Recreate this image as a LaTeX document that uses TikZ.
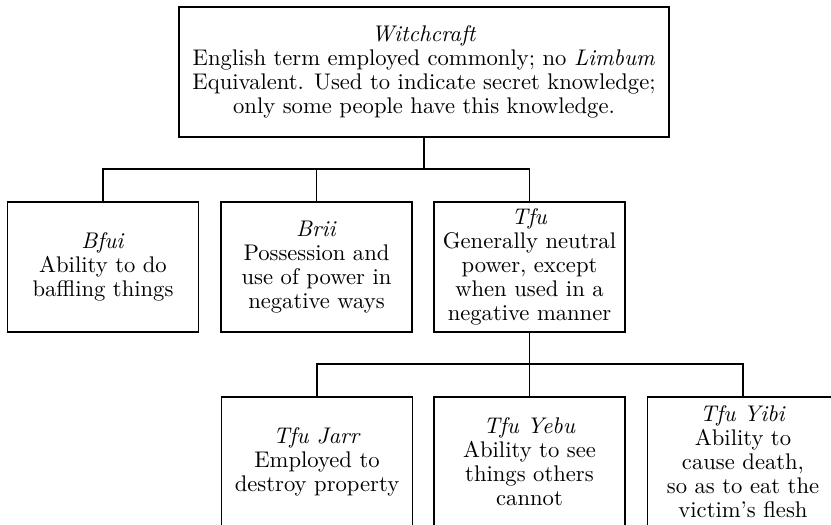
\documentclass[tikz,border=0pt]{standalone}
\usepackage{tikz}
\usetikzlibrary{positioning}

\tikzset{
  termbox/.style = {draw, line width = .7pt, align = center, inner sep = 0pt,
    minimum width = 84.4pt, minimum height = 57.5pt,
    font = \fontsize{10}{10.6}\selectfont},
  link/.style = {line width = .7pt}
}

\begin{document}
\begin{tikzpicture}[x = .442pt, y = -.442pt]
\useasboundingbox (0,0) rectangle (831,525);
% top level
\node[termbox, minimum width = 216.6pt] (witch) at (424,72) {\textit{Witchcraft}\\English term employed commonly; no \textit{Limbum}\\Equivalent. Used to indicate secret knowledge;\\only some people have this knowledge.};
% second level
\node[termbox] (bfui) at (103,267) {\textit{Bfui}\\Ability to do\\baffling things};
\node[termbox] (brii) at (316.5,267) {\textit{Brii}\\Possession and\\use of power in\\negative ways};
\node[termbox] (tfu) at (529.5,267) {\textit{Tfu}\\Generally neutral\\power, except\\when used in a\\negative manner};
% third level
\node[termbox] (jarr) at (317,462) {\textit{Tfu Jarr}\\Employed to\\destroy property};
\node[termbox] (yebu) at (529.5,462) {\textit{Tfu Yebu}\\Ability to see\\things others\\cannot};
\node[termbox] (yibi) at (743,462) {\textit{Tfu Yibi}\\Ability to\\cause death,\\so as to eat the\\victim's flesh};
% branches
\coordinate (split1) at (witch.south |- 0,169);
\coordinate (split2) at (tfu.south |- 0,364);
\draw[link] (witch.south) -- (split1);
\draw[link] (bfui.north) |- (split1) -| (tfu.north);
\draw[link] (brii.north) -- (brii.north |- split1);
\draw[link] (tfu.south) -- (split2);
\draw[link] (jarr.north) |- (split2) -| (yibi.north);
\draw[link] (yebu.north) -- (yebu.north |- split2);
\end{tikzpicture}
\end{document}
